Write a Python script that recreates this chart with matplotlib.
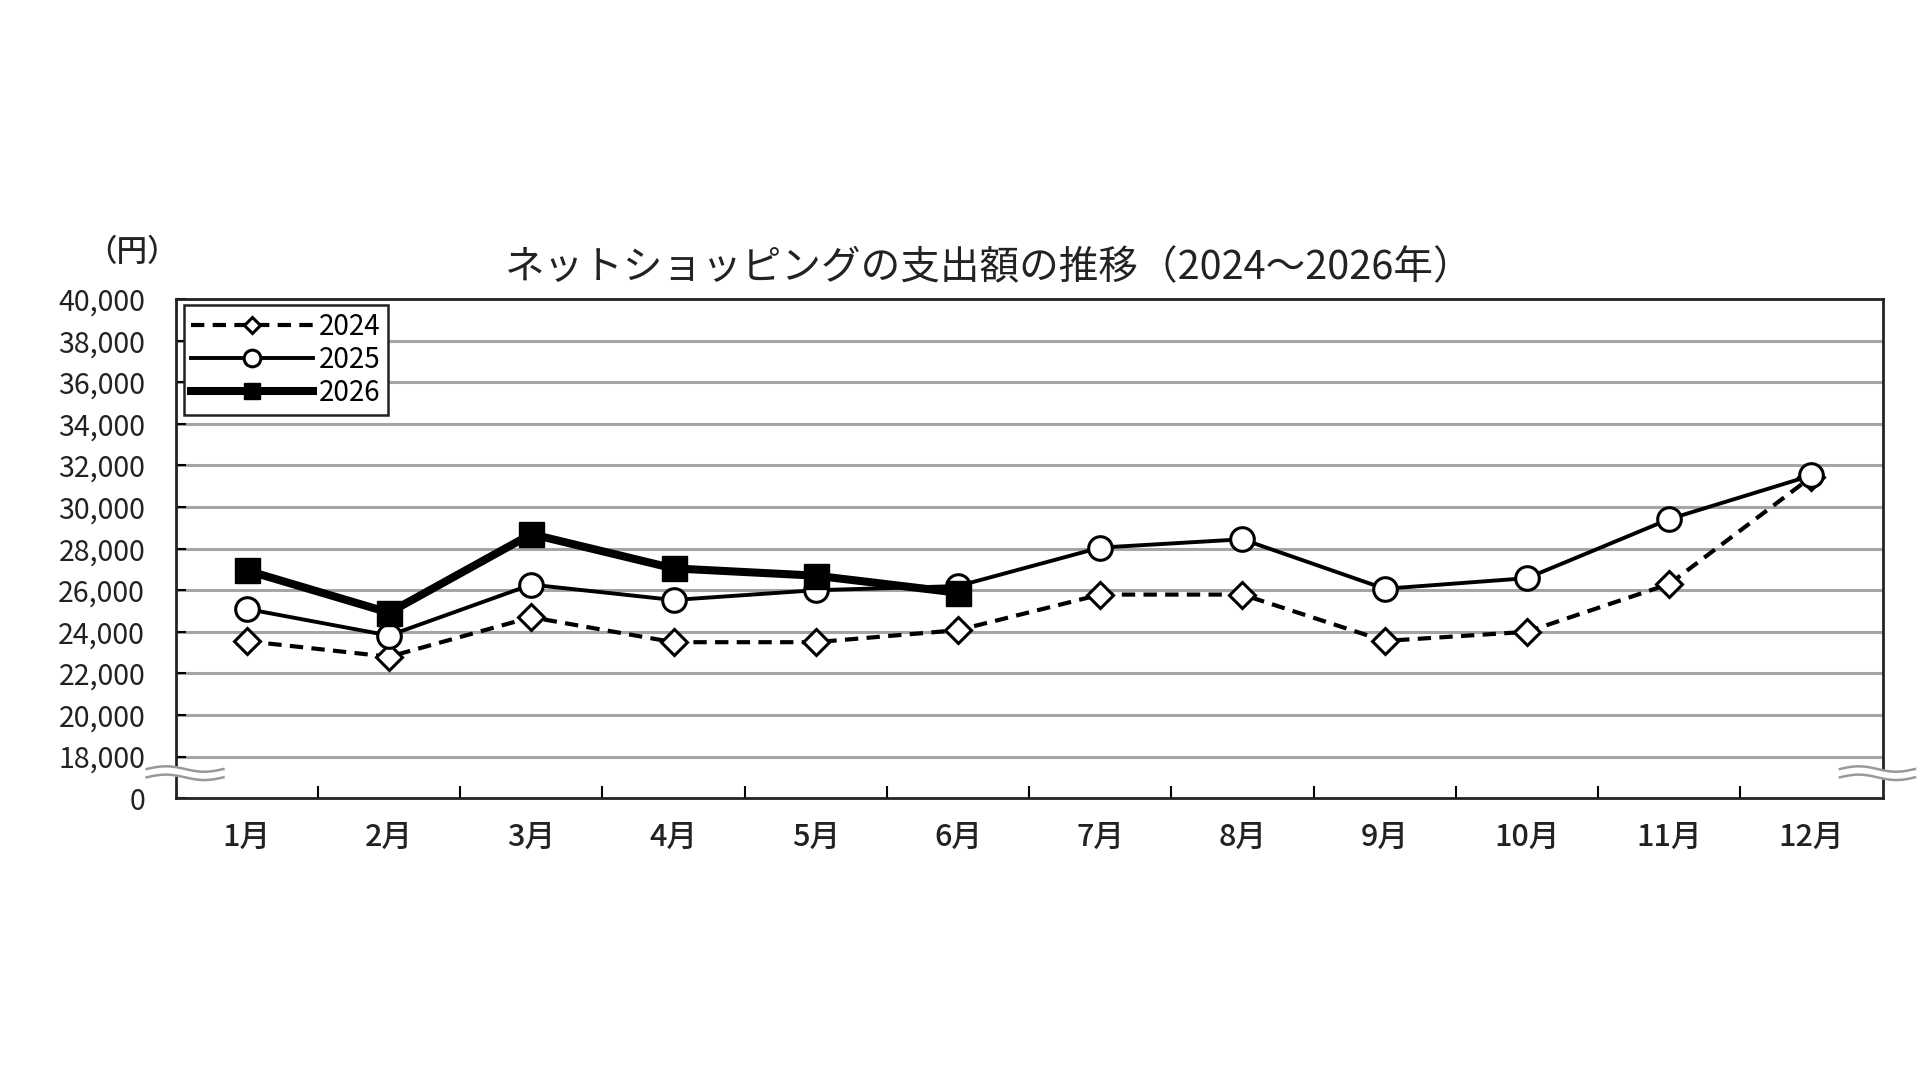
import numpy as np
import matplotlib.pyplot as plt
from matplotlib.transforms import blended_transform_factory

plt.rcParams['font.family'] = ['Noto Sans CJK JP', 'DejaVu Sans']

# データ
months = ["1月", "2月", "3月", "4月", "5月", "6月",
          "7月", "8月", "9月", "10月", "11月", "12月"]
y2024 = [23550, 22800, 24700, 23500, 23500, 24080,
         25790, 25790, 23560, 24000, 26300, 31450]
y2025 = [25100, 23820, 26270, 25530, 26000, 26200,
         28050, 28450, 26070, 26580, 29420, 31520]
y2026 = [26950, 24920, 28700, 27050, 26700, 25880]
yticks = [16000, 18000, 20000, 22000, 24000, 26000, 28000,
          30000, 32000, 34000, 36000, 38000, 40000]
ytick_labels = ["0"] + [f"{v:,}" for v in yticks[1:]]

x = np.arange(1, len(months) + 1)

fig = plt.figure(figsize=(19.2, 10.8), dpi=100)
ax = fig.add_axes([0.0915, 0.261, 0.889, 0.462])

ax.plot(x, y2024, color="black", lw=3, ls=(0, (3.2, 2)), marker="D",
        ms=13, mfc="white", mec="black", mew=2.2, label="2024", zorder=3)
ax.plot(x, y2025, color="black", lw=2.8, marker="o",
        ms=17, mfc="white", mec="black", mew=2.2, label="2025", zorder=4)
ax.plot(x[:len(y2026)], y2026, color="black", lw=5.8, marker="s",
        ms=18, mfc="black", mec="black", label="2026", zorder=5)

ax.set_xlim(0.5, 12.5)
ax.set_ylim(16000, 40000)

# y軸
ax.set_yticks(yticks)
ax.set_yticklabels(ytick_labels, fontsize=20.5, color="#222222")
ax.tick_params(axis="y", direction="in", length=7, width=1.5, pad=22)
for v in yticks[1:-1]:
    ax.axhline(v, color="#a5a5a5", lw=2.2, zorder=1)

# x軸: 目盛は区切り位置、ラベルは中央
ax.set_xticks(np.arange(1.5, 12.5, 1))
ax.set_xticklabels([])
ax.tick_params(axis="x", which="major", direction="in", length=9, width=1.5)
ax.set_xticks(x, minor=True)
ax.set_xticklabels(months, minor=True, fontsize=22, fontweight="medium",
                   color="#222222")
ax.tick_params(axis="x", which="minor", length=0, pad=17)

for s in ax.spines.values():
    s.set_linewidth(2)
    s.set_color("#222222")

# 波線（省略記号）
tr = blended_transform_factory(ax.transAxes, ax.transData)
for x0, x1 in [(-0.017, 0.028), (0.975, 1.019)]:
    xs = np.linspace(x0, x1, 60)
    ph = (xs - x0) / (x1 - x0) * 2 * np.pi
    wave = 130 * np.sin(ph)
    ax.fill_between(xs, 17000 + wave, 17400 + wave, color="white",
                    transform=tr, clip_on=False, zorder=6)
    for off in (17000, 17400):
        ax.plot(xs, off + wave, color="#999999", lw=1.8,
                transform=tr, clip_on=False, zorder=7)

leg = ax.legend(loc="upper left", bbox_to_anchor=(0.005, 0.988),
                borderaxespad=0, fontsize=20, handlelength=4.4,
                handletextpad=0.2, labelspacing=0.1, borderpad=0.25,
                fancybox=False, framealpha=1, edgecolor="#222222")
leg.get_frame().set_linewidth(1.8)
for h, ms in zip(leg.legend_handles, [8, 12, 11]):
    h.set_markersize(ms)
leg.set_zorder(8)

fig.text(0.515, 0.752, "ネットショッピングの支出額の推移（2024～2026年）",
         ha="center", va="center", fontsize=28.5, color="#222222")
fig.text(0.069, 0.766, "（円）", ha="center", va="center",
         fontsize=22, fontweight="medium", color="#222222")

fig.savefig("out.png", dpi=100, facecolor="white")
